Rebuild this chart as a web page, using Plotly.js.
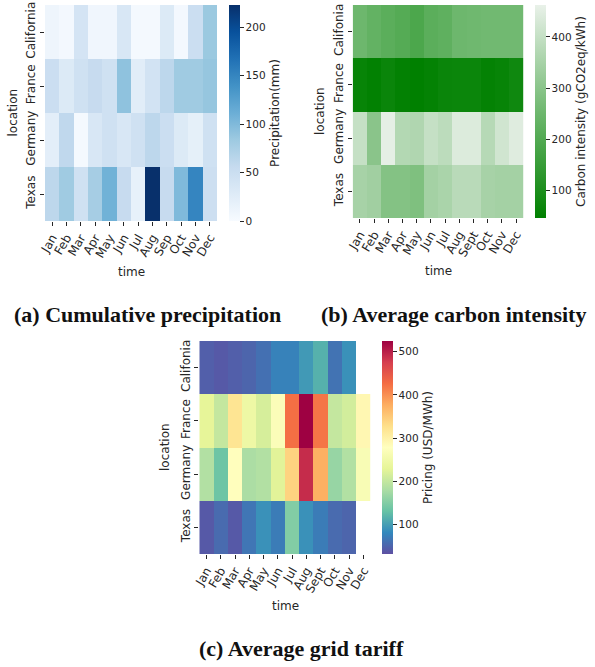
<!DOCTYPE html>
<html><head><meta charset="utf-8">
<script src="https://cdn.plot.ly/plotly-3.0.1.min.js"></script>
<style>html,body{margin:0;padding:0;background:#fff}#plot{width:595px;height:667px}</style>
</head><body><div id="plot"></div>
<script>
const locationsA = ['California','France','Germany','Texas'];
const locationsBC = ['Califonia','France','Germany','Texas'];
const monthsA = ['Jan','Feb','Mar','Apr','May','Jun','Jul','Aug','Sep','Oct','Nov','Dec'];
const monthsBC = ['Jan','Feb','Mar','Apr','May','Jun','Jul','Aug','Sept','Oct','Nov','Dec'];

const precipitation = [
  [10, 5, 40, 8, 8, 35, 3, 3, 30, 5, 50, 85],
  [50, 30, 45, 55, 45, 92, 25, 42, 62, 82, 82, 88],
  [22, 60, 3, 35, 45, 35, 45, 62, 50, 30, 20, 45],
  [62, 82, 45, 78, 108, 55, 18, 223, 55, 100, 150, 48]
];
const carbon = [
  [250, 232, 218, 205, 190, 218, 225, 250, 255, 258, 258, 258],
  [60, 50, 65, 52, 47, 55, 65, 68, 68, 55, 60, 75],
  [400, 300, 455, 370, 365, 400, 385, 440, 440, 375, 420, 445],
  [350, 340, 290, 290, 282, 345, 355, 380, 380, 350, 345, 345]
];
const tariff = [
  [45, 40, 45, 50, 60, 75, 75, 95, 115, 62, 88, null],
  [230, 200, 320, 245, 215, 270, 425, 525, 420, 200, 212, 290],
  [185, 135, 280, 180, 185, 225, 340, 490, 375, 165, 185, 265],
  [40, 55, 40, 65, 88, 70, 150, 88, 70, 55, 50, null]
];

const blues = [[0,'#f7fbff'],[0.125,'#deebf7'],[0.25,'#c6dbef'],[0.375,'#9ecae1'],[0.5,'#6baed6'],[0.625,'#4292c6'],[0.75,'#2171b5'],[0.875,'#08519c'],[1,'#08306b']];
const greens = [[0,'#008000'],[0.5,'#6fb86f'],[1,'#e9f1e9']];
const spectralR = [[0,'#5e4fa2'],[0.1,'#3288bd'],[0.2,'#66c2a5'],[0.3,'#abdda4'],[0.4,'#e6f598'],[0.5,'#ffffbf'],[0.6,'#fee08b'],[0.7,'#fdae61'],[0.8,'#f46d43'],[0.9,'#d53e4f'],[1,'#9e0142']];

const txt = '#262626';
const tickFont = {family:'DejaVu Sans', size:12, color:txt};
const cbTickFont = {family:'DejaVu Sans', size:10.5, color:txt};
const titleFont = {family:'DejaVu Sans', size:12, color:txt};

function cb(x, y0, y1, title, tickvals){
  return {x:x/595, xanchor:'left', xref:'paper', y:1-y1/667, yanchor:'bottom', yref:'paper',
    len:(y1-y0)/667, lenmode:'fraction', thickness:11, thicknessmode:'pixels',
    outlinewidth:0, ticks:'outside', ticklen:4, tickcolor:txt, tickwidth:1,
    tickvals:tickvals, tickfont:cbTickFont, xpad:0, ypad:0,
    title:{text:title, side:'right', font:titleFont}};
}

const data = [
  {type:'heatmap', z:precipitation, x:monthsA, y:locationsA, colorscale:blues, zmin:0, zmax:223,
   xaxis:'x', yaxis:'y', colorbar:cb(229,5,221,'Precipitation(mm)',[0,50,100,150,200]), hoverongaps:false},
  {type:'heatmap', z:carbon, x:monthsBC, y:locationsBC, colorscale:greens, zmin:47, zmax:462,
   xaxis:'x2', yaxis:'y2', colorbar:cb(535,5,218,'Carbon intensity (gCO2eq/kWh)',[100,200,300,400])},
  {type:'heatmap', z:tariff, x:monthsBC, y:locationsBC, colorscale:spectralR, zmin:31, zmax:525,
   xaxis:'x3', yaxis:'y3', colorbar:cb(382,341,554,'Pricing (USD/MWh)',[100,200,300,400,500]), hoverongaps:false}
];

function xa(x0,x1,anchor){
  return {domain:[x0/595,x1/595], anchor:anchor, tickangle:-60, ticks:'outside', ticklen:4, tickcolor:txt,
    tickfont:tickFont, showgrid:false, zeroline:false, showline:false, fixedrange:true};
}
function ya(y0,y1,anchor){
  return {domain:[1-y1/667,1-y0/667], anchor:anchor, autorange:'reversed', tickangle:-90, ticks:'outside',
    ticklen:4, tickcolor:txt, tickfont:tickFont, showgrid:false, zeroline:false, showline:false, fixedrange:true};
}

const serif = {family:'Liberation Serif', size:22, color:'#111', weight:'bold'};
function ann(text, x, y, font, angle){
  const a = {text:text, x:x/595, y:1-y/667, xref:'paper', yref:'paper', xanchor:'center', yanchor:'middle', showarrow:false, font:font};
  if (angle !== undefined) a.textangle = angle;
  return a;
}
const layout = {
  width:595, height:667, margin:{l:0,r:0,t:0,b:0}, paper_bgcolor:'#fff', plot_bgcolor:'#fff',
  showlegend:false,
  xaxis:xa(45,217,'y'), yaxis:ya(5,221,'x'),
  xaxis2:xa(352.7,523.3,'y2'), yaxis2:ya(5,218,'x2'),
  xaxis3:xa(199.3,370.7,'y3'), yaxis3:ya(341,554,'x3'),
  annotations:[
    ann('time', 131, 272, titleFont),
    ann('location', 12.5, 113, titleFont, -90),
    ann('time', 438, 271, titleFont),
    ann('location', 320, 111, titleFont, -90),
    ann('time', 285, 606, titleFont),
    ann('location', 165, 447, titleFont, -90),
    ann('<b>(a) Cumulative precipitation</b>', 147, 314, serif),
    ann('<b>(b) Average carbon intensity</b>', 453, 314, serif),
    ann('<b>(c) Average grid tariff</b>', 301, 648, serif)
  ]
};
Plotly.newPlot('plot', data, layout, {staticPlot:true, displayModeBar:false});
</script></body></html>
